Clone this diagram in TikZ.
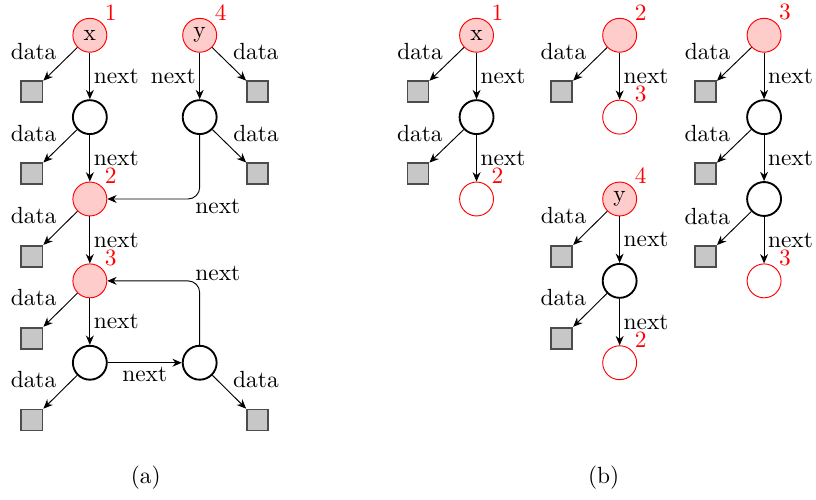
\documentclass[tikz,border=0pt]{standalone}
\usetikzlibrary{arrows.meta}
\begin{document}
\begin{tikzpicture}[>={Stealth[length=4pt,width=3.4pt]},
    cell/.style={circle,draw,thick,minimum size=14.5pt,inner sep=0pt},
    head/.style={circle,draw=red,fill=red!20,minimum size=14.5pt,inner sep=0pt},
    hit/.style={circle,draw=red,fill=white,minimum size=14.5pt,inner sep=0pt},
    val/.style={rectangle,draw=black!70,thick,fill=black!22,minimum size=9pt,inner sep=0pt},
    num/.style={label={[red,inner sep=1pt]45:#1}},
    lbl/.style={inner sep=1.5pt}]
      \useasboundingbox (0,0) rectangle (12.26,-7.51);
      % (a)
      \draw
        (1.35,-0.53) node[head,num=1] (x){x}
        (0.48,-1.38) node[val] (xd){}
        (1.35,-1.76) node[cell] (a1){}
        (0.48,-2.61) node[val] (a1d){}
        (1.35,-2.99) node[head,num=2] (a2){}
        (0.48,-3.85) node[val] (a2d){}
        (1.35,-4.22) node[head,num=3] (a3){}
        (0.48,-5.08) node[val] (a3d){}
        (1.35,-5.45) node[cell] (a4){}
        (0.48,-6.31) node[val] (a4d){}
        (3.00,-0.53) node[head,num=4] (y){y}
        (3.87,-1.38) node[val] (yd){}
        (3.00,-1.76) node[cell] (b1){}
        (3.87,-2.61) node[val] (b1d){}
        (3.00,-5.45) node[cell] (a5){}
        (3.87,-6.31) node[val] (a5d){}
        (2.19,-7.17) node (capa){(a)};
      % (b)
      \draw
        (7.16,-0.53) node[head,num=1] (p1){x}
        (6.28,-1.38) node[val] (p1d){}
        (7.16,-1.76) node[cell] (p2){}
        (6.28,-2.61) node[val] (p2d){}
        (7.16,-2.99) node[hit,num=2] (p3){}
        (9.31,-0.53) node[head,num=2] (q1){}
        (8.44,-1.38) node[val] (q1d){}
        (9.31,-1.76) node[hit,num=3] (q2){}
        (9.31,-2.99) node[head,num=4] (r1){y}
        (8.44,-3.85) node[val] (r1d){}
        (9.31,-4.22) node[cell] (r2){}
        (8.44,-5.08) node[val] (r2d){}
        (9.31,-5.45) node[hit,num=2] (r3){}
        (11.48,-0.53) node[head,num=3] (s1){}
        (10.60,-1.38) node[val] (s1d){}
        (11.48,-1.76) node[cell] (s2){}
        (10.60,-2.61) node[val] (s2d){}
        (11.48,-2.99) node[cell] (s3){}
        (10.60,-3.85) node[val] (s3d){}
        (11.48,-4.22) node[hit,num=3] (s4){}
        (9.07,-7.17) node (capb){(b)};
      \begin{scope}[->]
        \draw (x) to node[lbl,above left]{data} (xd);
        \draw (x) to node[lbl,right]{next} (a1);
        \draw (a1) to node[lbl,above left]{data} (a1d);
        \draw (a1) to node[lbl,right]{next} (a2);
        \draw (a2) to node[lbl,above left]{data} (a2d);
        \draw (a2) to node[lbl,right]{next} (a3);
        \draw (a3) to node[lbl,above left]{data} (a3d);
        \draw (a3) to node[lbl,right]{next} (a4);
        \draw (a4) to node[lbl,above left]{data} (a4d);
        \draw (a4) to node[lbl,below]{next} (a5);
        \draw (a5) to node[lbl,above right]{data} (a5d);
        \draw[rounded corners=5pt] (a5) |- node[pos=0.5,above right,inner sep=0pt,xshift=-2pt]{next} (a3);
        \draw (y) to node[lbl,above right]{data} (yd);
        \draw (y) to node[lbl,left]{next} (b1);
        \draw (b1) to node[lbl,above right]{data} (b1d);
        \draw[rounded corners=5pt] (b1) |- node[pos=0.5,below right,inner sep=0pt,xshift=-2pt]{next} (a2);
        \draw (p1) to node[lbl,above left]{data} (p1d);
        \draw (p1) to node[lbl,right]{next} (p2);
        \draw (p2) to node[lbl,above left]{data} (p2d);
        \draw (p2) to node[lbl,right]{next} (p3);
        \draw (q1) to node[lbl,above left]{data} (q1d);
        \draw (q1) to node[lbl,right]{next} (q2);
        \draw (r1) to node[lbl,above left]{data} (r1d);
        \draw (r1) to node[lbl,right]{next} (r2);
        \draw (r2) to node[lbl,above left]{data} (r2d);
        \draw (r2) to node[lbl,right]{next} (r3);
        \draw (s1) to node[lbl,above left]{data} (s1d);
        \draw (s1) to node[lbl,right]{next} (s2);
        \draw (s2) to node[lbl,above left]{data} (s2d);
        \draw (s2) to node[lbl,right]{next} (s3);
        \draw (s3) to node[lbl,above left]{data} (s3d);
        \draw (s3) to node[lbl,right]{next} (s4);
      \end{scope}
    \end{tikzpicture}
\end{document}
